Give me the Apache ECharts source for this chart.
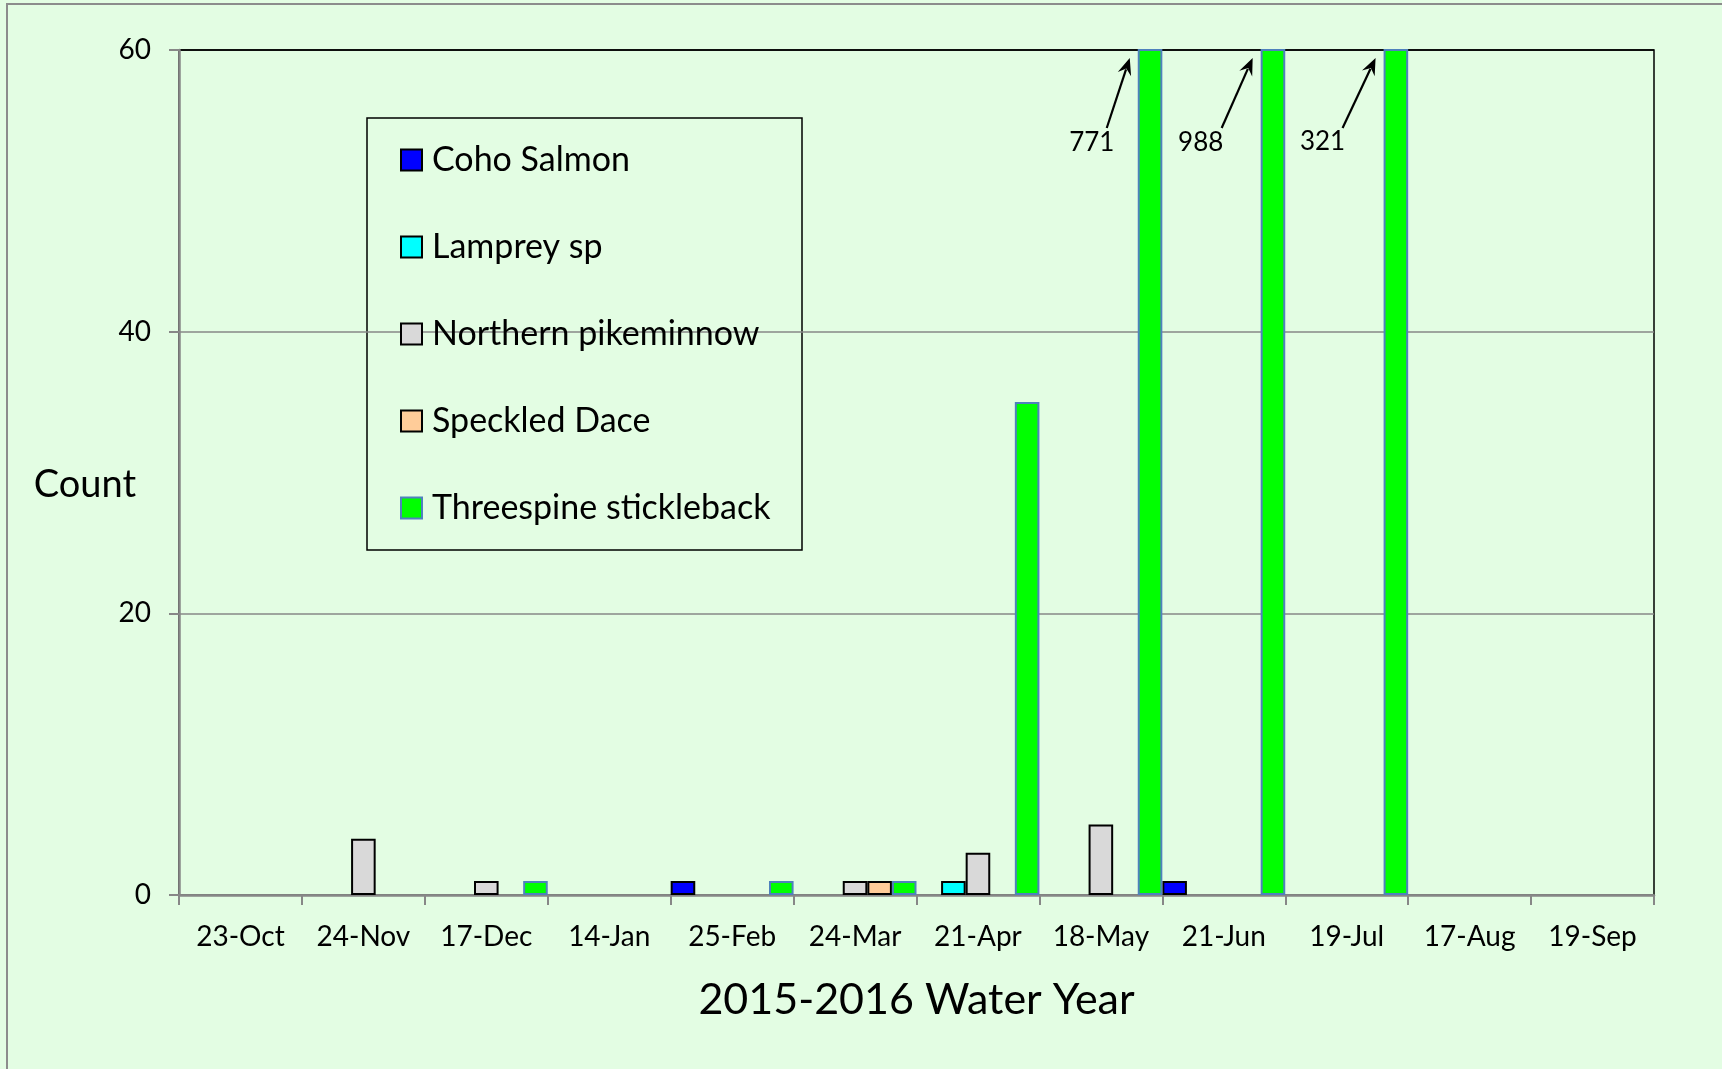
<!DOCTYPE html>
<html>
<head>
<meta charset="utf-8">
<style>
  html, body { margin: 0; padding: 0; background: #E3FDE3; }
  #chart { width: 1722px; height: 1069px; }
</style>
<script src="https://cdn.jsdelivr.net/npm/echarts@6/dist/echarts.min.js"></script>
</head>
<body>
<div id="chart"></div>
<script>
const categories = ['23-Oct','24-Nov','17-Dec','14-Jan','25-Feb','24-Mar','21-Apr','18-May','21-Jun','19-Jul','17-Aug','19-Sep'];
const cohoSalmon        = [0, 0, 0, 0, 1, 0, 0, 0, 1, 0, 0, 0];
const lampreySp         = [0, 0, 0, 0, 0, 0, 1, 0, 0, 0, 0, 0];
const northernPikeminnow= [0, 4, 1, 0, 0, 1, 3, 5, 0, 0, 0, 0];
const speckledDace      = [0, 0, 0, 0, 0, 1, 0, 0, 0, 0, 0, 0];
const threespineStickleback = [0, 0, 1, 0, 1, 1, 35, 771, 988, 321, 0, 0];
const yTicks = [0, 20, 40, 60];
const axisMax = 60;
const yAxisTitle = 'Count';
const xAxisTitle = '2015-2016 Water Year';

const FONT = 'Lato, "Open Sans", sans-serif';
const BG = '#E3FDE3';
const GRAY = '#878787';

const seriesDefs = [
  { name: 'Coho Salmon', data: cohoSalmon, color: '#0000FF', border: '#000000' },
  { name: 'Lamprey sp', data: lampreySp, color: '#00FFFF', border: '#000000' },
  { name: 'Northern pikeminnow', data: northernPikeminnow, color: '#D9D9D9', border: '#000000' },
  { name: 'Speckled Dace', data: speckledDace, color: '#FFCC99', border: '#000000' },
  { name: 'Threespine stickleback', data: threespineStickleback, color: '#00FF00', border: '#4F81BD' }
];

const chart = echarts.init(document.getElementById('chart'), null, { renderer: 'canvas' });

const option = {
  backgroundColor: BG,
  animation: false,
  textStyle: { fontFamily: FONT },
  grid: {
    left: 179, right: 68, top: 50, bottom: 174,
    show: true, borderColor: '#000000', borderWidth: 1.5, backgroundColor: 'transparent'
  },
  legend: {
    orient: 'vertical',
    left: 400, top: 143,
    itemWidth: 21, itemHeight: 21,
    itemGap: 53,
    icon: 'rect',
    padding: 0,
    textStyle: { fontFamily: FONT, fontSize: 34, color: '#000', lineHeight: 34, padding: [0, 0, 0, 5] },
    data: seriesDefs.map(s => s.name)
  },
  xAxis: {
    type: 'category',
    data: categories,
    name: xAxisTitle,
    nameLocation: 'middle',
    nameGap: 84,
    nameTextStyle: { fontFamily: FONT, fontSize: 43, color: '#000' },
    axisLine: { lineStyle: { color: GRAY, width: 2.5 } },
    axisTick: { show: true, length: 10, lineStyle: { color: GRAY, width: 2 } },
    axisLabel: { fontFamily: FONT, fontSize: 28, color: '#000', margin: 28, interval: 0 }
  },
  yAxis: {
    type: 'value',
    min: 0, max: axisMax, interval: yTicks[1] - yTicks[0],
    axisLine: { show: true, lineStyle: { color: GRAY, width: 2.5 } },
    axisTick: { show: true, length: 10, lineStyle: { color: GRAY, width: 2 } },
    axisLabel: { fontFamily: FONT, fontSize: 28, color: '#000', margin: 28 },
    splitLine: { show: true, lineStyle: { color: [GRAY, GRAY, GRAY, '#000000'], width: 1.5 } }
  },
  series: seriesDefs.map(s => ({
    name: s.name,
    type: 'bar',
    barGap: '0%',
    barCategoryGap: '0%',
    clip: true,
    data: s.data.map(v => (v === 0 ? '-' : v)),
    itemStyle: { color: s.color, borderColor: s.border, borderWidth: 2 }
  }))
};

chart.setOption(option);

// Annotations for clipped bars (value labels with arrows)
const annotationOffsets = [
  { text: [-46, 93], from: [-31, 78] },
  { text: [-60, 93], from: [-39, 78] },
  { text: [-61, 92], from: [-41, 78] }
];

function buildAnnotations() {
  const stickIdx = 4;
  const nSeries = seriesDefs.length;
  const clipped = [];
  threespineStickleback.forEach((v, i) => { if (v > axisMax) clipped.push(i); });
  const elements = [];
  // outer frame
  elements.push({
    type: 'rect', shape: { x: 7, y: 4, width: 1800, height: 1200 },
    style: { fill: null, stroke: '#8C8C8C', lineWidth: 2 }, silent: true, z: 100
  });
  // legend frame
  elements.push({
    type: 'rect', shape: { x: 367, y: 118, width: 435, height: 432 },
    style: { fill: BG, stroke: '#000', lineWidth: 1.5 }, z: -1, silent: true
  });
  // y axis title, placed from the axis geometry
  const pTop = chart.convertToPixel({ xAxisIndex: 0, yAxisIndex: 0 }, [0, axisMax]);
  const pBot = chart.convertToPixel({ xAxisIndex: 0, yAxisIndex: 0 }, [0, 0]);
  const bandW = chart.convertToPixel({ xAxisIndex: 0 }, 1) - chart.convertToPixel({ xAxisIndex: 0 }, 0);
  const axisX = pBot[0] - bandW / 2;
  elements.push({
    type: 'text',
    x: axisX - 43, y: (pTop[1] + pBot[1]) / 2 + 12,
    style: { text: yAxisTitle, fontFamily: FONT, fontSize: 38, fill: '#000', align: 'right', verticalAlign: 'middle' },
    silent: true, z: 50
  });
  clipped.forEach((ci, k) => {
    const c0 = chart.convertToPixel({ xAxisIndex: 0, yAxisIndex: 0 }, [ci, axisMax]);
    const c1 = chart.convertToPixel({ xAxisIndex: 0, yAxisIndex: 0 }, [ci + 1 < categories.length ? ci + 1 : ci - 1, axisMax]);
    const band = Math.abs(c1[0] - c0[0]);
    const barLeft = c0[0] - band / 2 + band * stickIdx / nSeries;
    const top = c0[1];
    const off = annotationOffsets[k] || annotationOffsets[annotationOffsets.length - 1];
    const tip = [barLeft - 8, top + 8];
    const from = [barLeft + off.from[0], top + off.from[1]];
    const ang = Math.atan2(tip[1] - from[1], tip[0] - from[0]);
    const hl = 17, hw = 7;
    const bx = tip[0] - hl * Math.cos(ang), by = tip[1] - hl * Math.sin(ang);
    const px = -Math.sin(ang), py = Math.cos(ang);
    elements.push({
      type: 'line',
      shape: { x1: from[0], y1: from[1], x2: bx + 0.3 * hl * Math.cos(ang), y2: by + 0.3 * hl * Math.sin(ang) },
      style: { stroke: '#000', lineWidth: 2.2 }, z: 50, silent: true
    });
    elements.push({
      type: 'polygon',
      shape: { points: [tip, [bx + px * hw, by + py * hw], [bx + 0.35 * hl * Math.cos(ang), by + 0.35 * hl * Math.sin(ang)], [bx - px * hw, by - py * hw]] },
      style: { fill: '#000' }, z: 50, silent: true
    });
    elements.push({
      type: 'text',
      x: barLeft + off.text[0], y: top + off.text[1],
      style: {
        text: String(threespineStickleback[ci]),
        fontFamily: FONT, fontSize: 26, fill: '#000',
        align: 'center', verticalAlign: 'middle'
      },
      z: 50, silent: true
    });
  });
  chart.setOption({ graphic: { elements: elements } });
}
buildAnnotations();
</script>
</body>
</html>
